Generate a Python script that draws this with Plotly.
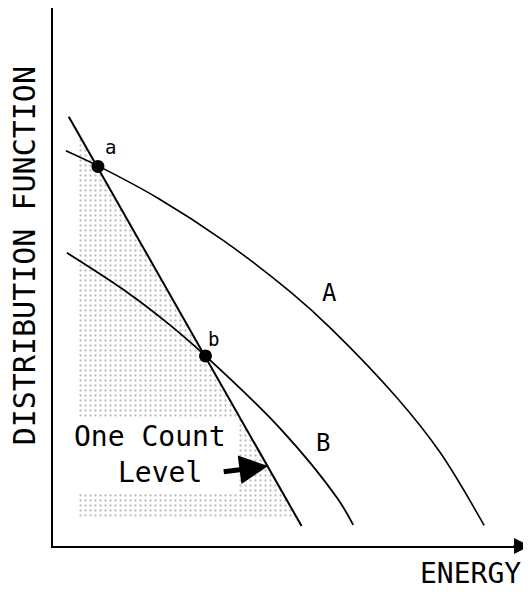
import plotly.graph_objects as go

# ---------------------------------------------------------------------------
# Data (arbitrary units: energy 0-10, log distribution 0-10)
# ---------------------------------------------------------------------------
line_x = [0.33, 5.2]
line_y = [7.95, 0.37]

curve_a_x = [0.27, 0.94, 2.18, 3.56, 4.96, 5.8, 7.2, 8.1, 9.02]
curve_a_y = [7.32, 7.04, 6.45, 5.66, 4.71, 4.04, 2.74, 1.73, 0.38]

curve_b_x = [0.29, 1.55, 2.45, 3.19, 4.75, 5.96, 6.28]
curve_b_y = [5.43, 4.70, 4.09, 3.52, 2.18, 0.87, 0.39]

point_labels = ["a", "b"]
point_x = [0.94, 3.19]
point_y = [7.03, 3.52]

shade_upper_x = [0.52, 3.92, 0.52]
shade_upper_y = [7.65, 2.37, 2.37]
shade_mid_x = [3.85, 3.92, 4.80, 3.85]
shade_mid_y = [2.37, 2.37, 1.0, 1.0]
shade_lower_x = [0.52, 4.80, 5.10, 0.52]
shade_lower_y = [1.0, 1.0, 0.54, 0.54]

FONT = "DejaVu Sans Mono"
INK = "black"

fig = go.Figure()

stipple = dict(shape=".", size=5, solidity=0.17, fgcolor="#7a7a7a", bgcolor="white")
for sx, sy in [(shade_upper_x, shade_upper_y), (shade_mid_x, shade_mid_y),
               (shade_lower_x, shade_lower_y)]:
    fig.add_trace(go.Scatter(
        x=sx, y=sy, mode="lines", fill="toself", fillcolor="white",
        fillpattern=stipple, line=dict(width=0), hoverinfo="skip",
        showlegend=False,
    ))

fig.add_trace(go.Scatter(x=curve_a_x, y=curve_a_y, mode="lines",
                         line=dict(color=INK, width=1.6, shape="spline",
                                   smoothing=1.0),
                         showlegend=False))
fig.add_trace(go.Scatter(x=curve_b_x, y=curve_b_y, mode="lines",
                         line=dict(color=INK, width=1.8, shape="spline",
                                   smoothing=1.0),
                         showlegend=False))
fig.add_trace(go.Scatter(x=line_x, y=line_y, mode="lines",
                         line=dict(color=INK, width=2), showlegend=False))
fig.add_trace(go.Scatter(x=point_x, y=point_y, mode="markers",
                         marker=dict(color=INK, size=13), showlegend=False))

# labels
label_offsets = [(0.27, 0.36), (0.17, 0.32)]
for lab, px, py, (dx, dy) in zip(point_labels, point_x, point_y, label_offsets):
    fig.add_annotation(x=px + dx, y=py + dy, text=lab, showarrow=False,
                       font=dict(family=FONT, size=19, color=INK))

fig.add_annotation(x=5.79, y=4.69, text="A", showarrow=False,
                   font=dict(family=FONT, size=24, color=INK))
fig.add_annotation(x=5.65, y=1.91, text="B", showarrow=False,
                   font=dict(family=FONT, size=24, color=INK))
fig.add_annotation(x=2.03, y=2.02, text="One Count", showarrow=False,
                   font=dict(family=FONT, size=28, color=INK))
fig.add_annotation(x=2.24, y=1.37, text="Level", showarrow=False,
                   font=dict(family=FONT, size=28, color=INK))

# one-count arrow
fig.add_annotation(x=4.5, y=1.48, ax=3.54, ay=1.37, axref="x", ayref="y",
                   text="", showarrow=True, arrowhead=2, arrowsize=1.15,
                   arrowwidth=5, arrowcolor=INK, standoff=0)

# energy axis arrow
fig.add_annotation(x=9.98, y=0, ax=9.6, ay=0, axref="x", ayref="y",
                   text="", showarrow=True, arrowhead=2, arrowsize=1.6,
                   arrowwidth=2, arrowcolor=INK, standoff=0)

fig.add_annotation(xref="paper", yref="paper", x=0.983, y=-0.052,
                   xanchor="right", yanchor="middle", text="ENERGY",
                   showarrow=False, font=dict(family=FONT, size=28, color=INK))
fig.add_annotation(xref="paper", yref="paper", x=-0.06, y=0.539,
                   xanchor="center", yanchor="middle",
                   text="DISTRIBUTION FUNCTION", textangle=-90,
                   showarrow=False, font=dict(family=FONT, size=30, color=INK))

fig.update_xaxes(range=[0, 10], showline=True, linecolor=INK, linewidth=2,
                 showgrid=False, zeroline=False, showticklabels=False,
                 ticks="")
fig.update_yaxes(range=[0, 9.963], showline=True, linecolor=INK, linewidth=2,
                 showgrid=False, zeroline=False, showticklabels=False,
                 ticks="")

# the page body adds an 8px margin, so the figure is 8px smaller
fig.update_layout(
    width=523, height=584,
    margin=dict(l=45, r=0, t=0, b=46),
    paper_bgcolor="white", plot_bgcolor="white",
)

fig.write_html("out.html")
